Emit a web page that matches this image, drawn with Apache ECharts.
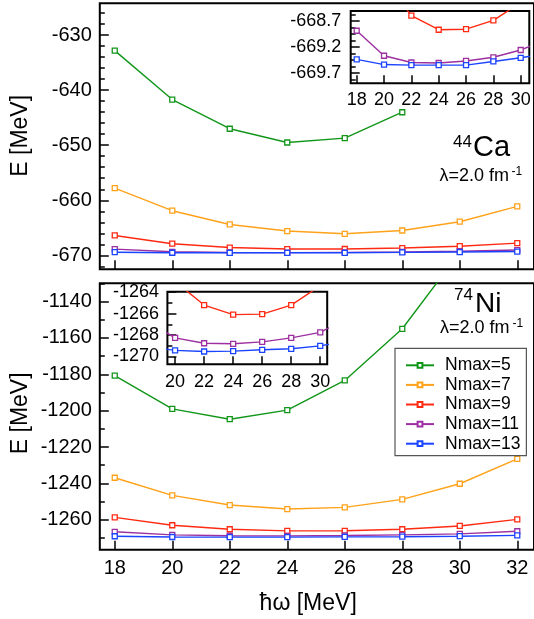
<!DOCTYPE html>
<html><head><meta charset="utf-8">
<script src="https://cdn.jsdelivr.net/npm/echarts@6/dist/echarts.min.js"></script>
<style>html,body{margin:0;padding:0;background:#fff}#c{width:534px;height:619px}</style>
</head><body><div id="c"></div>
<script>
// ---- data ----
const hw = [18, 20, 22, 24, 26, 28, 30, 32];
const seriesNames = ['Nmax=5', 'Nmax=7', 'Nmax=9', 'Nmax=11', 'Nmax=13'];
const colors = ['#12961a', '#ffa21a', '#ff2a12', '#9c30a0', '#1a44ff'];

// 44Ca  (E in MeV, vs hw)
const caN5  = [-632.8, -641.7, -647.0, -649.5, -648.7, -644.0];
const caN7  = [-657.8, -661.9, -664.4, -665.6, -666.1, -665.5, -663.9, -661.1];
const caN9  = [-666.4, -667.9, -668.60, -668.87, -668.86, -668.69, -668.35, -667.8];
const caN11 = [-668.89, -669.37, -669.50, -669.51, -669.47, -669.40, -669.26, -669.05];
const caN13 = [-669.44, -669.54, -669.55, -669.55, -669.55, -669.48, -669.41, -669.32];

// 74Ni
const niN5  = [-1180.7, -1199.0, -1204.7, -1199.7, -1183.4, -1155.0, -1113.0, -1060.0];
const niN7  = [-1236.9, -1246.6, -1251.9, -1254.1, -1253.2, -1248.8, -1240.2, -1226.5];
const niN9  = [-1258.7, -1263.0, -1265.2, -1266.1, -1266.05, -1265.2, -1263.4, -1259.8];
const niN11 = [-1266.6, -1268.28, -1268.78, -1268.83, -1268.65, -1268.28, -1267.76, -1266.3];
const niN13 = [-1269.05, -1269.45, -1269.55, -1269.52, -1269.39, -1269.30, -1269.02, -1268.55];

// tick labels
const mainXTicks   = [18, 20, 22, 24, 26, 28, 30, 32];
const caYTicks     = [-670, -660, -650, -640, -630];
const niYTicks     = [-1260, -1240, -1220, -1200, -1180, -1160, -1140];
const caInXTicks   = [18, 20, 22, 24, 26, 28, 30];
const caInYTicks   = [-669.7, -669.2, -668.7];
const niInXTicks   = [20, 22, 24, 26, 28, 30];
const niInYTicks   = [-1270, -1268, -1266, -1264];

function minorTicks(lo, hi, step, majorStep) {
  const out = [];
  for (let v = lo; v <= hi + 1e-9; v += step) {
    const r = Math.round(v * 1000) / 1000;
    if (Math.abs(r / majorStep - Math.round(r / majorStep)) > 1e-6) out.push(r);
  }
  return out;
}
const caYMinor   = minorTicks(-672, -626, 2, 10);
const niYMinor   = minorTicks(-1270, -1130, 10, 20);
const caInYMinor = [-669.825, -669.575, -669.45, -669.325, -669.075, -668.95, -668.825, -668.575];
const niInYMinor = [-1269, -1267, -1265];

const FONT = 'Liberation Sans, Arial, Helvetica, sans-serif';
const fmt = v => String(Math.round(v * 100) / 100);

function pairs(arr) { return arr.map((v, i) => [hw[i], v]); }

const grids = [
  {left: 99.8, top: 3.3, width: 437.5, height: 266, show: true, borderColor: '#000', borderWidth: 2, backgroundColor: 'transparent', z: 1},
  {left: 99.8, top: 283.3, width: 437.5, height: 266.5, show: true, borderColor: '#000', borderWidth: 2, backgroundColor: 'transparent', z: 1},
  {left: 350.7, top: 11, width: 178.6, height: 72.3, show: true, borderColor: '#000', borderWidth: 2, backgroundColor: '#fff', z: 10},
  {left: 167.4, top: 291.7, width: 159.8, height: 72.6, show: true, borderColor: '#000', borderWidth: 2, backgroundColor: '#fff', z: 10}
];

function xAx(g, min, max, ticks, showLabel, fs, margin, z, tlen) {
  return {gridIndex: g, type: 'value', min, max, z,
    axisLine: {show: false}, splitLine: {show: false},
    axisTick: {show: true, inside: true, length: tlen, customValues: ticks, lineStyle: {color: '#000', width: 1.5}},
    axisLabel: {show: showLabel, customValues: ticks, fontSize: fs, margin, color: '#000', fontFamily: FONT, formatter: fmt}};
}
function yAx(g, min, max, ticks, showLabel, fs, margin, z, tlen) {
  return {gridIndex: g, type: 'value', position: 'left', min, max, z,
    axisLine: {show: false}, splitLine: {show: false},
    axisTick: {show: true, inside: true, length: tlen, customValues: ticks, lineStyle: {color: '#000', width: 1.5}},
    axisLabel: {show: showLabel, customValues: ticks, fontSize: fs, margin, color: '#000', fontFamily: FONT, formatter: fmt}};
}

const xMin = 17.48, xMax = 17.48 + 437.5 / 28.97;
const caMin = -672.55, caMax = -624.2;
const niMin = -1276.5, niMax = -1130;
const caInMin = -669.9, caInMax = -668.51;
const niInMin = -1270.75, niInMax = -1263.95;

const xAxes = [
  xAx(0, xMin, xMax, mainXTicks, false, 20, 9, 3, 9),
  xAx(1, xMin, xMax, mainXTicks, true, 20, 9, 3, 9),
  xAx(2, 17.56, 30.63, caInXTicks, true, 18, 8, 11, 8),
  xAx(3, 19.47, 30.48, niInXTicks, true, 18, 8.5, 11, 8)
];
const yAxes = [
  yAx(0, caMin, caMax, caYTicks, true, 20, 8, 3, 9),
  yAx(0, caMin, caMax, caYMinor, false, 20, 8, 3, 5),
  yAx(1, niMin, niMax, niYTicks, true, 20, 8, 3, 9),
  yAx(1, niMin, niMax, niYMinor, false, 20, 8, 3, 5),
  yAx(2, caInMin, caInMax, caInYTicks, true, 18, 9.4, 11, 9),
  yAx(2, caInMin, caInMax, caInYMinor, false, 18, 9, 11, 5),
  yAx(3, niInMin, niInMax, niInYTicks, true, 18, 8.4, 11, 9),
  yAx(3, niInMin, niInMax, niInYMinor, false, 18, 8, 11, 5)
];

function line(nameIdx, data, xi, yi, z) {
  const c = colors[nameIdx];
  return {type: 'line', name: seriesNames[nameIdx], xAxisIndex: xi, yAxisIndex: yi, z,
    data: pairs(data), symbol: 'rect', symbolSize: 5, showSymbol: true, clip: true,
    lineStyle: {color: c, width: 1.4}, itemStyle: {color: '#fff', borderColor: c, borderWidth: 1.3},
    emphasis: {disabled: true}, animation: false};
}

const series = [
  line(0, caN5, 0, 0, 3), line(1, caN7, 0, 0, 3), line(2, caN9, 0, 0, 3), line(3, caN11, 0, 0, 3), line(4, caN13, 0, 0, 3),
  line(0, niN5, 1, 2, 3), line(1, niN7, 1, 2, 3), line(2, niN9, 1, 2, 3), line(3, niN11, 1, 2, 3), line(4, niN13, 1, 2, 3),
  line(2, caN9, 2, 4, 12), line(3, caN11, 2, 4, 12), line(4, caN13, 2, 4, 12),
  line(2, niN9, 3, 6, 12), line(3, niN11, 3, 6, 12), line(4, niN13, 3, 6, 12)
];

function txt(x, y, text, size, align, rot) {
  return {type: 'text', x, y, rotation: rot || 0, z: 30,
    style: {text, fill: '#000', font: size + 'px ' + FONT, textAlign: align || 'left', textVerticalAlign: 'middle', verticalAlign: 'middle'}};
}

const graphic = [
  txt(453, 142.5, '44', 17), txt(473, 147.8, 'Ca', 29),
  txt(439.5, 176, 'λ=2.0 fm', 18), txt(511.5, 171.5, '-1', 12),
  txt(454, 295.5, '74', 17), txt(475, 303.9, 'Ni', 28),
  txt(440, 328.5, 'λ=2.0 fm', 18), txt(512.5, 323.8, '-1', 12),
  txt(21, 135.8, 'E [MeV]', 23, 'center', Math.PI / 2),
  txt(21, 413.3, 'E [MeV]', 23, 'center', Math.PI / 2),
  txt(308.2, 603.3, 'ħω [MeV]', 23, 'center')
];

const chart = echarts.init(document.getElementById('c'), null, {renderer: 'canvas'});
chart.setOption({
  animation: false,
  backgroundColor: '#fff',
  grid: grids,
  xAxis: xAxes,
  yAxis: yAxes,
  legend: {data: seriesNames, orient: 'vertical', left: 395, top: 348.3, z: 20,
    itemWidth: 28, itemHeight: 6, itemGap: 1.6, padding: [8, 6, 3, 10],
    borderColor: '#555', borderWidth: 1.2, backgroundColor: '#fff', selectedMode: false,
    textStyle: {fontSize: 17.5, lineHeight: 14, fontFamily: FONT, color: '#000', padding: [0, 0, 0, 6]}},
  series,
  graphic
});
</script></body></html>
